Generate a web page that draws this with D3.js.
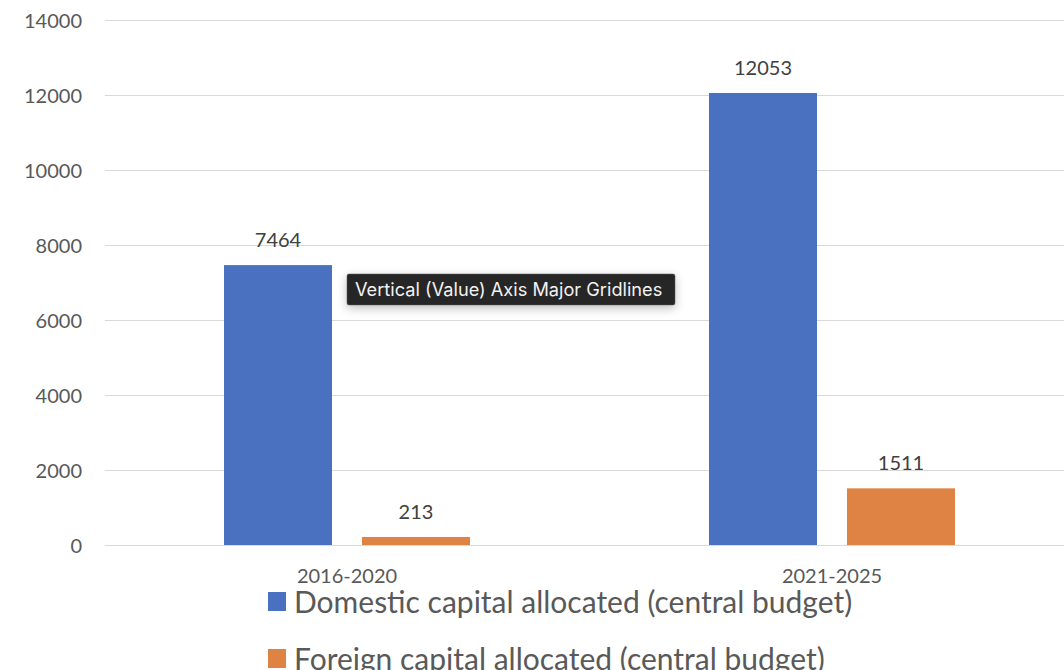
<!DOCTYPE html>
<html>
<head>
<meta charset="utf-8">
<script src="https://cdn.jsdelivr.net/npm/d3@7"></script>
<style>
  html, body { margin: 0; padding: 0; background: #fff; }
  svg { display: block; }
</style>
</head>
<body>
<svg id="chart" width="1064" height="670"></svg>
<script>
const categories = ["2016-2020", "2021-2025"];
const seriesNames = ["Domestic capital allocated (central budget)", "Foreign capital allocated (central budget)"];
const domestic = [7464, 12053];
const foreign = [213, 1511];
const yTicks = [0, 2000, 4000, 6000, 8000, 10000, 12000, 14000];
const tooltipText = "Vertical (Value) Axis Major Gridlines";

const colors = ["#4A71C0", "#DE8344"];
const textColor = "#595959";
const font = "Lato, 'Open Sans', sans-serif";

const svg = d3.select("#chart");
const W = 1064, H = 670;

const x0 = d3.scaleBand().domain(categories).range([104.5, 1074.5]).paddingInner(0).paddingOuter(0);
// position of the two bars inside one category band (offsets from band start)
const x1 = d3.scaleBand().domain([0, 1]).range([119.5, 365.5]).paddingInner(30 / 138).paddingOuter(0);
const y = d3.scaleLinear().domain([0, 14000]).range([545, 20]);

// gridlines
const gridAxis = d3.axisLeft(y).tickValues(yTicks).tickSize(-(W - 105)).tickFormat("");
const grid = svg.append("g").attr("transform", "translate(105,0)").call(gridAxis);
grid.select(".domain").remove();
grid.selectAll("line").attr("stroke", "#D9D9D9").attr("stroke-width", 1.2);

// y tick labels
const yAxis = d3.axisLeft(y).tickValues(yTicks).tickSize(0).tickPadding(0).tickFormat(d3.format("d"));
const ya = svg.append("g").attr("transform", "translate(82,0)").call(yAxis);
ya.select(".domain").remove();
ya.selectAll("text").attr("font-family", font).attr("font-size", 20).attr("fill", textColor).attr("dy", "0.36em");

// bars
const data = categories.map((c, i) => ({cat: c, vals: [domestic[i], foreign[i]]}));
const groups = svg.append("g").selectAll("g").data(data).join("g")
  .attr("transform", d => `translate(${x0(d.cat)},0)`);
groups.selectAll("rect").data(d => d.vals.map((v, j) => ({v, j})))
  .join("rect")
  .attr("x", d => x1(d.j))
  .attr("y", d => y(d.v))
  .attr("width", x1.bandwidth())
  .attr("height", d => y(0) - y(d.v))
  .attr("fill", d => colors[d.j]);
groups.selectAll("text").data(d => d.vals.map((v, j) => ({v, j})))
  .join("text")
  .attr("x", d => x1(d.j) + x1.bandwidth() / 2)
  .attr("y", d => y(d.v) - 18)
  .attr("text-anchor", "middle")
  .attr("font-family", font).attr("font-size", 20).attr("fill", "#404040")
  .text(d => d.v);

// x axis labels
const xAxis = d3.axisBottom(x0).tickSize(0).tickPadding(0);
const xa = svg.append("g").attr("transform", "translate(0,583)").call(xAxis);
xa.select(".domain").remove();
xa.selectAll("text").attr("font-family", font).attr("font-size", 20).attr("fill", textColor).attr("dy", 0);

// legend
const legend = svg.append("g").selectAll("g").data(seriesNames).join("g")
  .attr("transform", (d, i) => `translate(268,${592 + i * 57})`);
legend.append("rect").attr("width", 18).attr("height", 19).attr("fill", (d, i) => colors[i]);
legend.append("text").attr("x", 26).attr("y", 21)
  .attr("font-family", font).attr("font-size", 30).attr("fill", textColor).text(d => d);

// tooltip
const defs = svg.append("defs");
const f = defs.append("filter").attr("id", "shadow").attr("x", "-20%").attr("y", "-60%").attr("width", "140%").attr("height", "260%");
f.append("feDropShadow").attr("dx", 0).attr("dy", 3).attr("stdDeviation", 5).attr("flood-color", "#000").attr("flood-opacity", 0.25);
const tip = svg.append("g").attr("transform", "translate(347,274)");
tip.append("rect").attr("width", 328).attr("height", 31).attr("rx", 2).attr("fill", "#262626").attr("stroke", "#555").attr("stroke-width", 0.5).attr("filter", "url(#shadow)");
tip.append("text").attr("x", 8).attr("y", 22).attr("font-family", "Inter, Roboto, 'Liberation Sans', sans-serif")
  .attr("font-size", 18.2).attr("fill", "#F2F2F2").text(tooltipText);
</script>
</body>
</html>
